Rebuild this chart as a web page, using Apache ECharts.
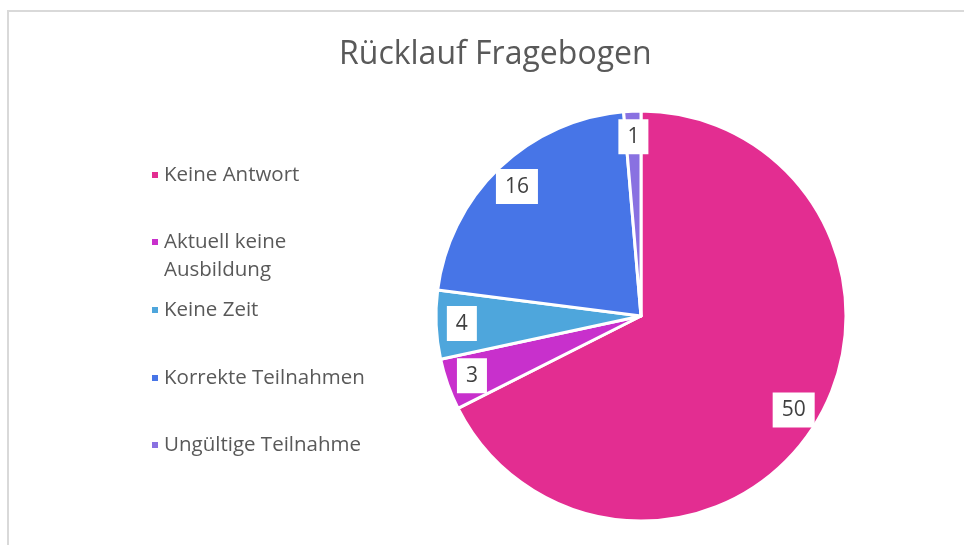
<!DOCTYPE html>
<html>
<head>
<meta charset="utf-8">
<script src="https://cdn.jsdelivr.net/npm/echarts@6/dist/echarts.min.js"></script>
<style>
  html, body { margin: 0; padding: 0; background: #fff; }
  #chart { width: 964px; height: 545px; }
</style>
</head>
<body>
<div id="chart"></div>
<script>
// Rücklauf Fragebogen
const categories = ['Keine Antwort', 'Aktuell keine Ausbildung', 'Keine Zeit', 'Korrekte Teilnahmen', 'Ungültige Teilnahme'];
const values = [50, 3, 4, 16, 1];
const colors = ['#E32D91', '#C830CC', '#4EA6DC', '#4775E7', '#8971E1'];

const legendTops = [156, 195, 291, 359, 426];
const pieCenter = [641, 316];
const pieRadius = 205;

const pieData = categories.map((name, i) => ({
  name: name,
  value: values[i],
  itemStyle: { color: colors[i] }
}));

const chart = echarts.init(document.getElementById('chart'));

// one legend per entry so each can sit at its own height;
// the long entry gets a leading empty line so the marker lines up with its first line
const legends = categories.map((name, i) => ({
  orient: 'vertical',
  left: 145,
  top: legendTops[i],
  itemWidth: 8,
  itemHeight: 8,
  icon: 'rect',
  data: [name],
  formatter: n => (n === 'Aktuell keine Ausbildung' ? '\nAktuell keine\nAusbildung' : n),
  textStyle: {
    fontFamily: 'Open Sans',
    fontSize: 20.5,
    color: '#595959',
    lineHeight: 28
  }
}));

const option = {
  animation: false,
  title: {
    text: 'Rücklauf Fragebogen',
    left: 334,
    top: 34,
    textStyle: { fontFamily: 'Open Sans', fontSize: 32, fontWeight: 'normal', color: '#595959' }
  },
  legend: legends,
  graphic: [{
    type: 'rect',
    shape: { x: 8, y: 11, width: 1000, height: 600 },
    style: { fill: 'none', stroke: '#d9d9d9', lineWidth: 2 },
    silent: true
  }],
  series: [
    {
      type: 'pie',
      center: pieCenter,
      radius: [0, pieRadius],
      startAngle: 90,
      clockwise: true,
      data: pieData,
      itemStyle: { borderColor: '#fff', borderWidth: 3 },
      label: { show: false },
      labelLine: { show: false },
      emphasis: { disabled: true }
    },
    {
      // label carrier: same slices, no fill, labels sit ~0.86 of the radius
      type: 'pie',
      center: pieCenter,
      radius: [pieRadius * 0.72, pieRadius],
      startAngle: 90,
      clockwise: true,
      silent: true,
      data: pieData.map(d => ({ name: d.name, value: d.value, itemStyle: { color: 'rgba(0,0,0,0)' } })),
      itemStyle: { borderWidth: 0 },
      label: {
        show: true,
        position: 'inside',
        formatter: '{c}',
        fontFamily: 'Open Sans',
        fontSize: 21,
        color: '#404040',
        backgroundColor: '#fff',
        padding: [8, 9, 6, 9]
      },
      labelLine: { show: false },
      emphasis: { disabled: true }
    }
  ]
};

chart.setOption(option);
</script>
</body>
</html>
